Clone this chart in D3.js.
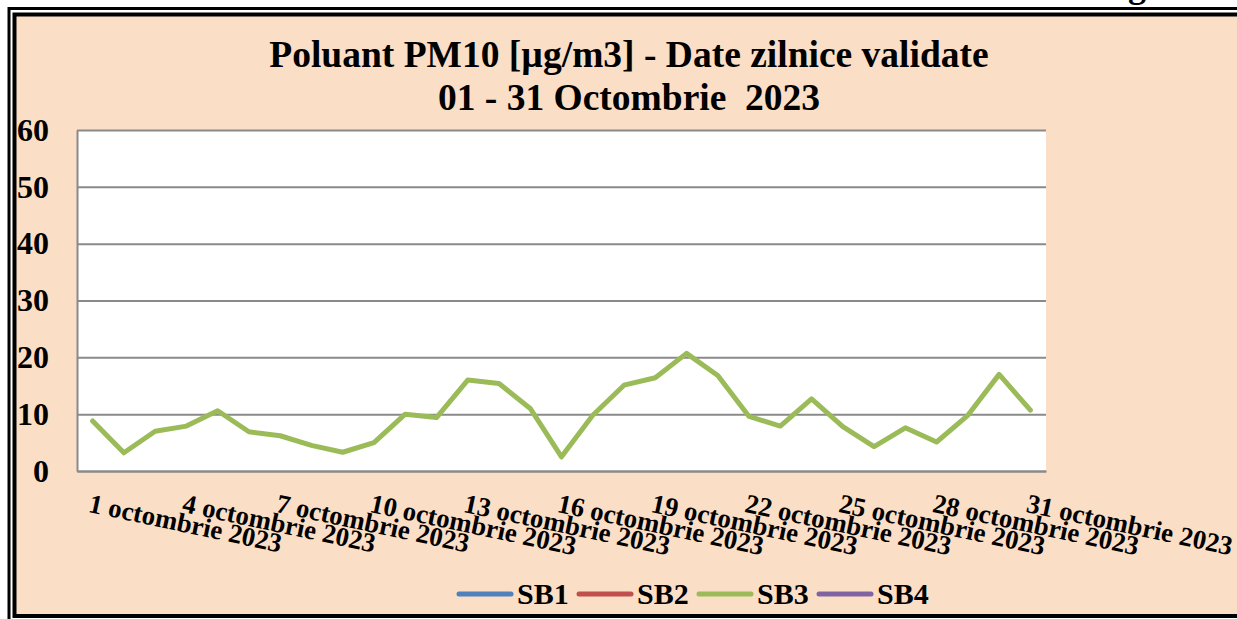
<!DOCTYPE html>
<html>
<head>
<meta charset="utf-8">
<script src="https://cdn.jsdelivr.net/npm/d3@7"></script>
<style>
  body { margin: 0; background: #fff; }
  text { font-family: "Liberation Serif", "Times New Roman", serif; font-weight: bold; white-space: pre; }
</style>
</head>
<body>
<div id="grafico"></div>
<script>
const width = 1237
const height = 619

// data
const titleLines = ['Poluant PM10 [µg/m3] - Date zilnice validate', '01 - 31 Octombrie  2023']
const days = [1, 2, 3, 4, 5, 6, 7, 8, 9, 10, 11, 12, 13, 14, 15, 16, 17, 18, 19, 20, 21, 22, 23, 24, 25, 26, 27, 28, 29, 30, 31]
const tickDays = [1, 4, 7, 10, 13, 16, 19, 22, 25, 28, 31]
const yTicks = [0, 10, 20, 30, 40, 50, 60]
const sb1 = []
const sb2 = []
const sb3 = [8.8, 3.2, 7.0, 7.9, 10.6, 6.9, 6.2, 4.5, 3.3, 5.0, 10.0, 9.4, 16.0, 15.4, 11.0, 2.5, 9.8, 15.1, 16.4, 20.7, 16.8, 9.6, 7.9, 12.7, 7.8, 4.3, 7.6, 5.1, 9.8, 17.0, 10.7]
const sb4 = []
const seriesNames = ['SB1', 'SB2', 'SB3', 'SB4']
const seriesColors = ['#4F81BD', '#C0504D', '#9BBB59', '#8064A2']

const series = seriesNames.map((name, i) => ({ name: name, color: seriesColors[i], values: [sb1, sb2, sb3, sb4][i] }))

const svg = d3.select('#grafico').append('svg')
              .attr('width', width)
              .attr('height', height)

// bit of the page text above the chart
svg.append('text').attr('x', 1128).attr('y', -3).attr('font-size', 36).text('g')

// double frame
svg.append('rect').attr('x', 9).attr('y', 8.5).attr('width', 1300).attr('height', 613)
   .attr('fill', '#fff').attr('stroke', '#000').attr('stroke-width', 3)
svg.append('rect').attr('x', 14.5).attr('y', 14.5).attr('width', 1300).attr('height', 601.5)
   .attr('fill', '#FADEC6').attr('stroke', '#000').attr('stroke-width', 4)

const plot = { left: 77, right: 1046, top: 130, bottom: 471 }

const x = d3.scaleBand().domain(days).range([plot.left, plot.right])
const y = d3.scaleLinear().domain([0, 60]).range([plot.bottom, plot.top])
const cx = d => x(d) + x.bandwidth() / 2

svg.append('rect').attr('x', plot.left).attr('y', plot.top)
   .attr('width', plot.right - plot.left).attr('height', plot.bottom - plot.top)
   .attr('fill', '#fff')

// grid
const grid = svg.append('g').attr('transform', `translate(${plot.left},0)`)
                .call(d3.axisLeft(y).tickValues(yTicks).tickSize(-(plot.right - plot.left)).tickFormat(''))
grid.select('.domain').remove()
grid.selectAll('line').attr('stroke', '#8a8a8a').attr('stroke-width', 2)

// y axis
const yAxis = svg.append('g').attr('transform', `translate(${plot.left},0)`)
                 .call(d3.axisLeft(y).tickValues(yTicks).tickSize(0).tickPadding(28))
yAxis.select('.domain').attr('stroke', '#8a8a8a').attr('stroke-width', 2)
yAxis.selectAll('text').attr('font-size', 32).attr('fill', '#000')

// x axis
const xAxis = svg.append('g').attr('transform', `translate(0,${plot.bottom})`)
                 .call(d3.axisBottom(x).tickValues(tickDays).tickSize(0).tickFormat(''))
xAxis.select('.domain').attr('stroke', '#8a8a8a').attr('stroke-width', 2)

svg.append('g').selectAll('text')
   .data(tickDays)
   .enter()
   .append('text')
   .attr('transform', d => `translate(${cx(d) - 1},${plot.bottom + 21}) rotate(12)`)
   .attr('dy', '0.75em')
   .attr('font-size', 26.8)
   .text(d => d + ' octombrie 2023')

// lines
const line = d3.line().x((v, i) => cx(days[i])).y(v => y(v))
svg.append('g').selectAll('path')
   .data(series.filter(s => s.values.length))
   .enter()
   .append('path')
   .attr('d', s => line(s.values))
   .attr('fill', 'none')
   .attr('stroke', s => s.color)
   .attr('stroke-width', 5)
   .attr('stroke-linejoin', 'round')
   .attr('stroke-linecap', 'round')

// title
svg.append('g').selectAll('text')
   .data(titleLines)
   .enter()
   .append('text')
   .attr('x', 629)
   .attr('y', (d, i) => 67 + i * 43)
   .attr('text-anchor', 'middle')
   .attr('font-size', 37.5)
   .text(d => d)

// legend
const legend = svg.append('g').selectAll('g')
                  .data(series)
                  .enter()
                  .append('g')
                  .attr('transform', (d, i) => `translate(${459 + i * 120},594)`)
legend.append('line').attr('x1', 0).attr('x2', 52).attr('y1', 0).attr('y2', 0)
      .attr('stroke', d => d.color).attr('stroke-width', 5).attr('stroke-linecap', 'round')
legend.append('text').attr('x', 58).attr('y', 9.5).attr('font-size', 30).text(d => d.name)
</script>
</body>
</html>
